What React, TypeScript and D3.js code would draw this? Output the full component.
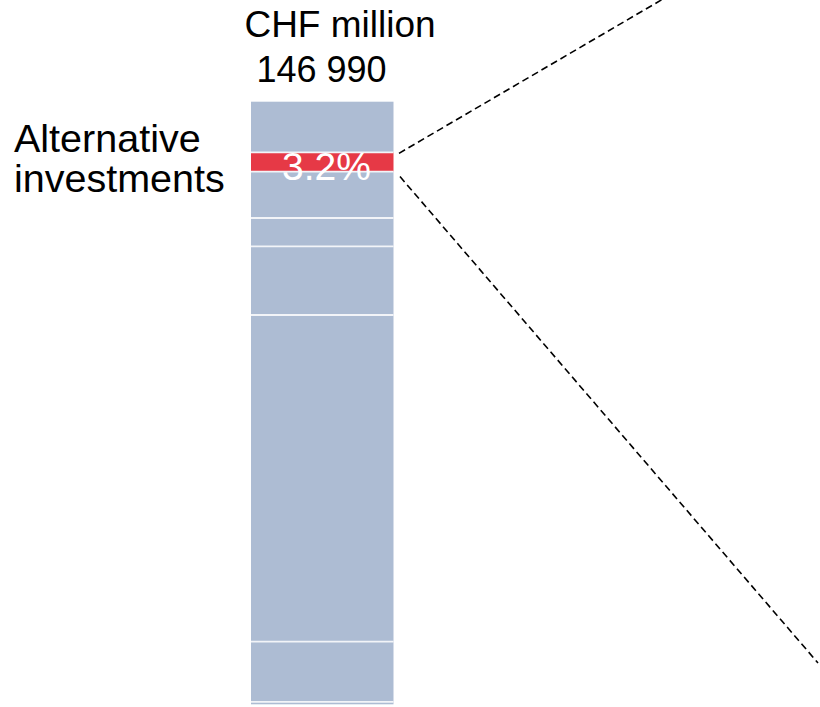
import React from "react";
import * as d3 from "d3";

// Portfolio composition, top to bottom, in percent of the total
const segmentShares = [8.4, 3.2, 7.7, 4.7, 11.4, 54.2, 10.0, 0.4];
const highlightIndex = 1;
const highlightLabel = ["Alternative", "investments"];
const totalLabel = ["CHF million", "146 990"];

const W = 820;
const H = 707;
const FONT = "Liberation Sans, Arial, Helvetica, sans-serif";

export default function App() {
  const y = d3.scaleLinear().domain([0, 100]).range([101.7, 704.3]);
  const x0 = 251;
  const x1 = 393.5;

  const cumulative = d3.cumsum(segmentShares);
  const segs = segmentShares.map((v, i) => ({
    v,
    i,
    start: i === 0 ? 0 : cumulative[i - 1],
    end: cumulative[i],
  }));

  const hl = segs[highlightIndex];
  const hlTop = y(hl.start);
  const hlBottom = y(hl.end);

  return (
    <svg
      width={W}
      height={H}
      style={{ position: "absolute", left: 0, top: 0, background: "#fff" }}
      fontFamily={FONT}
    >
      <text x={340} y={36.5} fontSize={37} textAnchor="middle" fill="#000">
        {totalLabel[0]}
      </text>
      <text x={321.5} y={82} fontSize={36} textAnchor="middle" fill="#000">
        {totalLabel[1]}
      </text>

      <g>
        {segs.map((s) => (
          <rect
            key={s.i}
            x={x0}
            y={y(s.start)}
            width={x1 - x0}
            height={y(s.end) - y(s.start)}
            fill={s.i === highlightIndex ? "#e63946" : "#adbcd3"}
          />
        ))}
        {segs.slice(1).map((s) => (
          <line
            key={"sep" + s.i}
            x1={x0}
            x2={x1}
            y1={y(s.start)}
            y2={y(s.start)}
            stroke="#f2f4f8"
            strokeWidth={1.8}
          />
        ))}
      </g>

      <text x={326.5} y={180} fontSize={39} textAnchor="middle" fill="#fff">
        {hl.v.toFixed(1)}%
      </text>

      <text x={14} y={151.5} fontSize={39.5} fill="#000">
        {highlightLabel[0]}
      </text>
      <text x={14} y={192} fontSize={39.5} fill="#000">
        {highlightLabel[1]}
      </text>

      <line
        x1={399}
        y1={hlTop + 1}
        x2={663}
        y2={-1}
        stroke="#000"
        strokeWidth={1.6}
        strokeDasharray="7,4"
      />
      <line
        x1={400}
        y1={hlBottom + 5}
        x2={818}
        y2={663}
        stroke="#000"
        strokeWidth={1.6}
        strokeDasharray="7,4"
      />
    </svg>
  );
}
